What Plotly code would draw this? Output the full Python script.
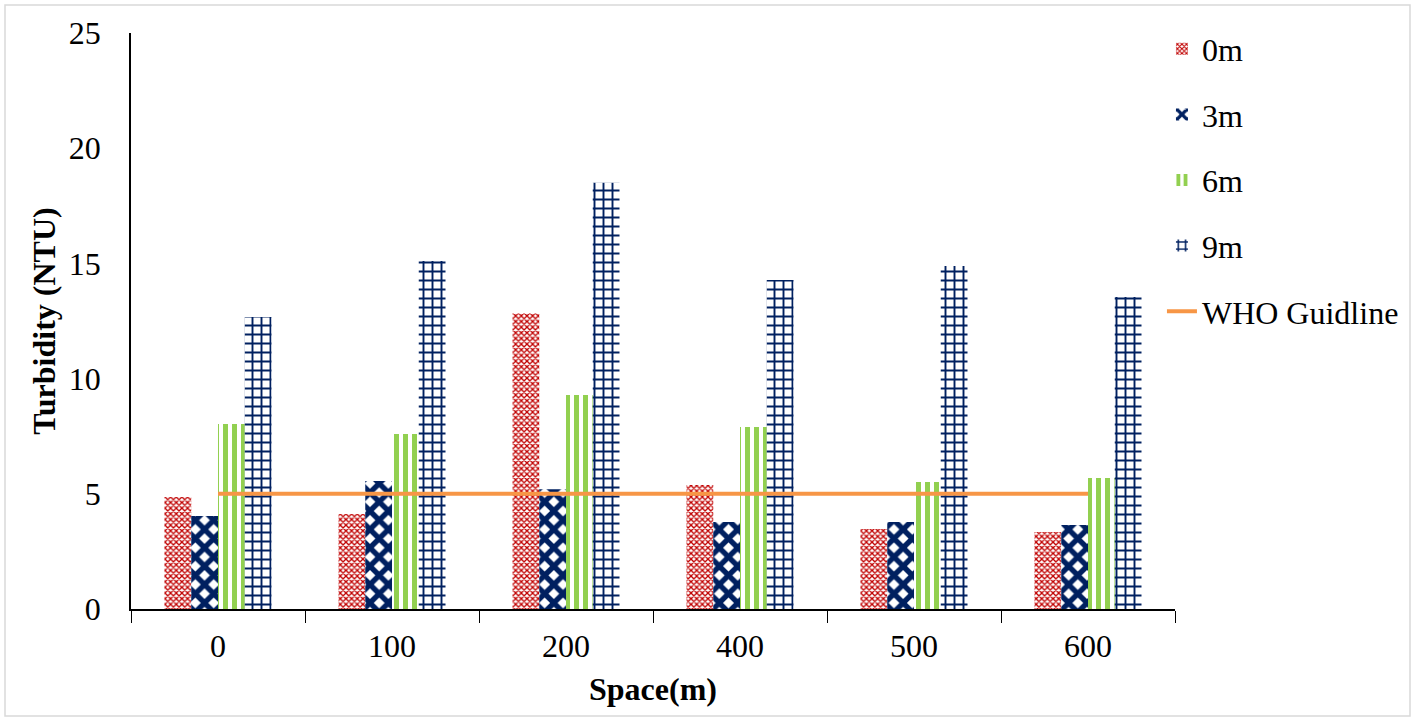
import plotly.graph_objects as go

# Sampling distance (m) along the transect
space = ["0", "100", "200", "400", "500", "600"]

# Turbidity (NTU) at each sampling depth
turb_0m = [4.86, 4.12, 12.85, 5.38, 3.47, 3.34]
turb_3m = [4.04, 5.56, 5.20, 3.78, 3.78, 3.65]
turb_6m = [8.03, 7.60, 9.29, 7.90, 5.51, 5.69]
turb_9m = [12.67, 15.10, 18.50, 14.28, 14.89, 13.54]

# WHO guideline value (NTU)
who_limit = [5, 5, 5, 5, 5, 5]

FONT = "Liberation Serif"
FS = 32

series = [
    ("0m", turb_0m, "#C00000", "x", 4, 0.55),
    ("3m", turb_3m, "#002060", "x", 13, 0.65),
    ("6m", turb_6m, "#92D050", "|", 9, 0.55),
    ("9m", turb_9m, "#002060", "+", 9, 0.38),
]

fig = go.Figure()
for i, (name, vals, color, shape, size, solid) in enumerate(series):
    fig.add_trace(go.Bar(
        x=space, y=vals, name=name, legendgroup=f"g{i}",
        marker=dict(
            color=color,
            line=dict(width=0),
            pattern=dict(shape=shape, fgcolor=color, bgcolor="white",
                         size=size, solidity=solid, fillmode="replace"),
        ),
    ))

fig.add_trace(go.Scatter(
    x=space, y=who_limit, name="WHO Guidline", legendgroup="g4",
    mode="lines", line=dict(color="#F79646", width=4),
))

fig.update_layout(
    width=1417, height=721,
    margin=dict(l=131, r=242, t=33, b=112),
    paper_bgcolor="white", plot_bgcolor="white",
    font=dict(family=FONT, size=FS, color="black"),
    barmode="group", bargap=0.385, bargroupgap=0,
    legend=dict(x=0.9875, y=1.02, xanchor="left", yanchor="top",
                font=dict(family=FONT, size=FS, color="black"),
                tracegroupgap=21, bgcolor="rgba(0,0,0,0)"),
    showlegend=True,
)

fig.update_xaxes(
    type="category", showline=True, linecolor="black", linewidth=1.5,
    ticks="outside", tickson="boundaries", ticklen=12, tickcolor="black",
    showgrid=False, zeroline=False, ticklabelstandoff=8,
    title=dict(text="<b>Space(m)</b>", font=dict(family=FONT, size=FS), standoff=14),
    tickfont=dict(family=FONT, size=FS),
)
fig.update_yaxes(
    range=[0, 25], dtick=5, showline=True, linecolor="black", linewidth=1.5,
    ticks="", showgrid=False, zeroline=False, ticklabelstandoff=22,
    title=dict(text="<b>Turbidity (NTU)</b>", font=dict(family=FONT, size=FS), standoff=4),
    tickfont=dict(family=FONT, size=FS),
)

# light frame around the whole chart
fig.add_shape(type="rect", xref="paper", yref="paper",
              x0=-126 / 1044, x1=1279 / 1044, y0=-107 / 576, y1=1 + 28 / 576,
              line=dict(color="#D9D9D9", width=1.5), fillcolor="rgba(0,0,0,0)")

fig.write_html("out.html")
